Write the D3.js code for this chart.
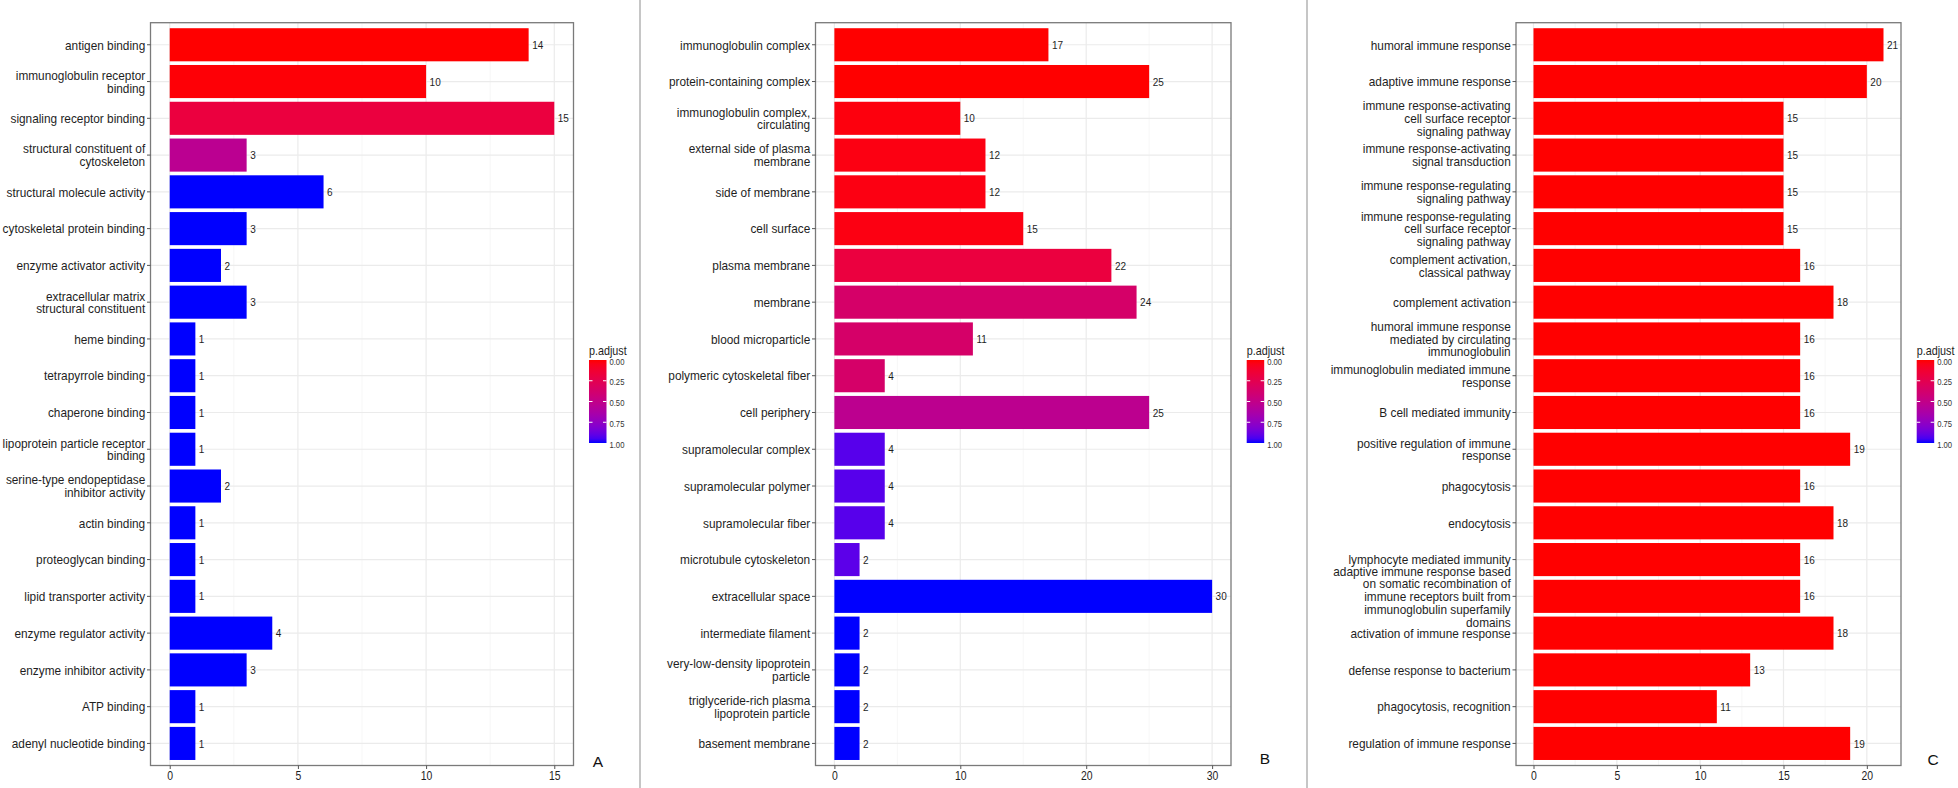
<!DOCTYPE html>
<html>
<head>
<meta charset="utf-8">
<script src="https://cdn.jsdelivr.net/npm/d3@7"></script>
<style>
  html, body { margin: 0; padding: 0; background: #fff; }
  svg { display: block; }
  text { font-family: "Liberation Sans", Arial, sans-serif; }
</style>
</head>
<body>
<svg id="chart" width="1958" height="788"></svg>
<script>
// ---------------- DATA ----------------
const categoriesA = [
  "antigen binding", "immunoglobulin receptor binding", "signaling receptor binding",
  "structural constituent of cytoskeleton", "structural molecule activity",
  "cytoskeletal protein binding", "enzyme activator activity",
  "extracellular matrix structural constituent", "heme binding", "tetrapyrrole binding",
  "chaperone binding", "lipoprotein particle receptor binding",
  "serine-type endopeptidase inhibitor activity", "actin binding", "proteoglycan binding",
  "lipid transporter activity", "enzyme regulator activity", "enzyme inhibitor activity",
  "ATP binding", "adenyl nucleotide binding"
];
const countsA = [14, 10, 15, 3, 6, 3, 2, 3, 1, 1, 1, 1, 2, 1, 1, 1, 4, 3, 1, 1];
const padjA   = [0.0, 0.01, 0.18, 0.54, 1, 1, 1, 1, 1, 1, 1, 1, 1, 1, 1, 1, 1, 1, 1, 1];
const ticksA  = [0, 5, 10, 15];

const categoriesB = [
  "immunoglobulin complex", "protein-containing complex", "immunoglobulin complex, circulating",
  "external side of plasma membrane", "side of membrane", "cell surface", "plasma membrane",
  "membrane", "blood microparticle", "polymeric cytoskeletal fiber", "cell periphery",
  "supramolecular complex", "supramolecular polymer", "supramolecular fiber",
  "microtubule cytoskeleton", "extracellular space", "intermediate filament",
  "very-low-density lipoprotein particle", "triglyceride-rich plasma lipoprotein particle",
  "basement membrane"
];
const countsB = [17, 25, 10, 12, 12, 15, 22, 24, 11, 4, 25, 4, 4, 4, 2, 30, 2, 2, 2, 2];
const padjB   = [0.0, 0.0, 0.02, 0.03, 0.03, 0.03, 0.18, 0.36, 0.36, 0.36, 0.53, 0.92, 0.92, 0.92, 0.91, 1, 1, 1, 1, 1];
const ticksB  = [0, 10, 20, 30];

const categoriesC = [
  "humoral immune response", "adaptive immune response",
  "immune response-activating cell surface receptor signaling pathway",
  "immune response-activating signal transduction",
  "immune response-regulating signaling pathway",
  "immune response-regulating cell surface receptor signaling pathway",
  "complement activation, classical pathway", "complement activation",
  "humoral immune response mediated by circulating immunoglobulin",
  "immunoglobulin mediated immune response", "B cell mediated immunity",
  "positive regulation of immune response", "phagocytosis", "endocytosis",
  "lymphocyte mediated immunity",
  "adaptive immune response based on somatic recombination of immune receptors built from immunoglobulin superfamily domains",
  "activation of immune response", "defense response to bacterium",
  "phagocytosis, recognition", "regulation of immune response"
];
const countsC = [21, 20, 15, 15, 15, 15, 16, 18, 16, 16, 16, 19, 16, 18, 16, 16, 18, 13, 11, 19];
const padjC   = [0, 0, 0, 0, 0, 0, 0, 0, 0, 0, 0, 0, 0, 0, 0, 0, 0, 0, 0, 0];
const ticksC  = [0, 5, 10, 15, 20];

const legendTicks = [0, 0.25, 0.5, 0.75, 1];
const legendTitle = "p.adjust";
const panelLetters = ["A", "B", "C"];

// ---------------- LAYOUT ----------------
const svg = d3.select("#chart");
const TOP = 22.7, BOTTOM = 765.5;
const SX = 0.87; // horizontal squeeze of the text, as in the reference image
const color = d3.scaleLinear().domain([0, 1]).range(["red", "blue"]).interpolate(d3.interpolateLab);

function wrap(s, width) {
  const words = s.split(" ");
  const lines = [];
  let cur = "";
  words.forEach(w => {
    if (cur === "") cur = w;
    else if ((cur + " " + w).length <= width) cur += " " + w;
    else { lines.push(cur); cur = w; }
  });
  if (cur) lines.push(cur);
  return lines;
}

function sqText(parent, x, y, size) {
  return parent.append("text")
    .attr("transform", `translate(${x},${y}) scale(${SX},1)`)
    .attr("font-size", size);
}

// dividers
[640, 1307].forEach(xd => {
  svg.append("line").attr("x1", xd).attr("x2", xd).attr("y1", 0).attr("y2", 788)
    .attr("stroke", "#a8a8a8").attr("stroke-width", 1.3);
});

// gradient
const defs = svg.append("defs");
const grad = defs.append("linearGradient").attr("id", "pgrad")
  .attr("x1", 0).attr("y1", 0).attr("x2", 0).attr("y2", 1);
d3.range(0, 1.0001, 0.05).forEach(t => {
  grad.append("stop").attr("offset", t).attr("stop-color", color(t));
});

function drawPanel(cats, counts, padj, ticks, L) {
  const g = svg.append("g");
  const max = d3.max(counts);
  const x = d3.scaleLinear().domain([-0.05 * max, 1.05 * max]).range([L.left, L.right]);
  const y = d3.scaleBand().domain(cats).range([TOP, BOTTOM]).paddingInner(0.1).paddingOuter(0.15);

  // minor grid
  const minor = [];
  for (let i = 0; i < ticks.length - 1; i++) minor.push((ticks[i] + ticks[i + 1]) / 2);
  g.selectAll(".minor").data(minor).join("line")
    .attr("x1", d => x(d)).attr("x2", d => x(d)).attr("y1", TOP).attr("y2", BOTTOM)
    .attr("stroke", "#f3f3f3").attr("stroke-width", 0.7);
  // major grid
  g.selectAll(".major").data(ticks).join("line")
    .attr("x1", d => x(d)).attr("x2", d => x(d)).attr("y1", TOP).attr("y2", BOTTOM)
    .attr("stroke", "#ebebeb").attr("stroke-width", 1.2);
  g.selectAll(".hgrid").data(cats).join("line")
    .attr("x1", L.left).attr("x2", L.right)
    .attr("y1", d => y(d) + y.bandwidth() / 2).attr("y2", d => y(d) + y.bandwidth() / 2)
    .attr("stroke", "#ebebeb").attr("stroke-width", 1.2);

  // bars
  g.selectAll(".bar").data(cats).join("rect")
    .attr("x", x(0)).attr("y", d => y(d))
    .attr("width", (d, i) => x(counts[i]) - x(0))
    .attr("height", y.bandwidth())
    .attr("fill", (d, i) => color(padj[i]));

  // value labels
  cats.forEach((c, i) => {
    sqText(g, x(counts[i]) + 3.5, y(c) + y.bandwidth() / 2, 11.5)
      .attr("dy", "0.36em").attr("fill", "#1e1e1e").text(counts[i]);
  });

  // border
  g.append("rect").attr("x", L.left).attr("y", TOP)
    .attr("width", L.right - L.left).attr("height", BOTTOM - TOP)
    .attr("fill", "none").attr("stroke", "#7a7a7a").attr("stroke-width", 1.3);

  // y axis
  const ya = g.append("g").attr("transform", `translate(${L.left},0)`)
    .call(d3.axisLeft(y).tickSize(3.5).tickPadding(1.8));
  ya.select(".domain").remove();
  ya.selectAll(".tick line").attr("stroke", "#555").attr("stroke-width", 1);
  ya.selectAll(".tick text").each(function(d) {
    const t = d3.select(this);
    const lines = wrap(d, 30);
    const xx = -5.3 / SX;
    t.text(null).attr("dy", null).attr("x", xx).attr("font-size", 13.6).attr("fill", "#1e1e1e")
      .attr("transform", `scale(${SX},1)`)
      .attr("font-family", '"Liberation Sans", Arial, sans-serif');
    lines.forEach((ln, i) => {
      t.append("tspan").attr("x", xx)
        .attr("y", (i - (lines.length - 1) / 2) * 12.7)
        .attr("dy", "0.35em").text(ln);
    });
  });

  // x axis
  const xa = g.append("g").attr("transform", `translate(0,${BOTTOM})`)
    .call(d3.axisBottom(x).tickValues(ticks).tickSize(3.5).tickFormat(d3.format("d")));
  xa.select(".domain").remove();
  xa.selectAll(".tick line").attr("stroke", "#555").attr("stroke-width", 1);
  xa.selectAll(".tick text").attr("y", 10.5).attr("dy", "0.35em")
    .attr("transform", `scale(${SX},1)`)
    .attr("font-size", 12).attr("fill", "#1e1e1e")
    .attr("font-family", '"Liberation Sans", Arial, sans-serif');

  // legend
  const lg = g.append("g");
  const barTop = 360, barH = 83, barW = 17.5, lx = L.legendX;
  sqText(lg, lx, 355, 12.4).attr("fill", "#1e1e1e").text(legendTitle);
  lg.append("rect").attr("x", lx).attr("y", barTop).attr("width", barW).attr("height", barH)
    .attr("fill", "url(#pgrad)");
  const ly = d3.scaleLinear().domain([0, 1]).range([barTop, barTop + barH]);
  legendTicks.slice(1, -1).forEach(t => {
    lg.append("line").attr("x1", lx).attr("x2", lx + 3.5).attr("y1", ly(t)).attr("y2", ly(t))
      .attr("stroke", "#fff").attr("stroke-width", 1);
    lg.append("line").attr("x1", lx + barW - 3.5).attr("x2", lx + barW).attr("y1", ly(t)).attr("y2", ly(t))
      .attr("stroke", "#fff").attr("stroke-width", 1);
  });
  legendTicks.forEach(t => {
    sqText(lg, lx + barW + 3, ly(t) + 1.5, 8.8)
      .attr("dy", "0.35em").attr("fill", "#333").text(d3.format(".2f")(t));
  });

  // panel letter
  g.append("text").attr("x", L.letterX).attr("y", L.letterY)
    .attr("text-anchor", "middle").attr("font-size", 15.5)
    .attr("font-family", '"Liberation Serif", "Times New Roman", serif')
    .attr("fill", "#111").text(L.letter);
}

drawPanel(categoriesA, countsA, padjA, ticksA,
  { left: 150.5, right: 573.5, legendX: 589, letter: panelLetters[0], letterX: 598, letterY: 767 });
drawPanel(categoriesB, countsB, padjB, ticksB,
  { left: 815.5, right: 1231, legendX: 1246.7, letter: panelLetters[1], letterX: 1265, letterY: 764 });
drawPanel(categoriesC, countsC, padjC, ticksC,
  { left: 1516, right: 1901, legendX: 1916.7, letter: panelLetters[2], letterX: 1933, letterY: 765 });
</script>
</body>
</html>
